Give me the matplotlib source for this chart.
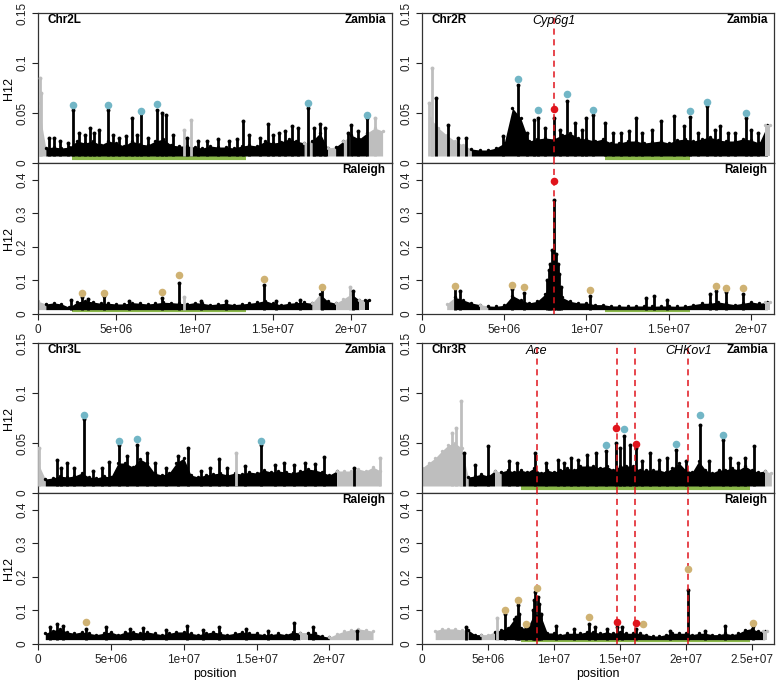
import numpy as np
import matplotlib.pyplot as plt

plt.rcParams['font.family'] = ['Liberation Sans', 'DejaVu Sans']

# band top of H12 on a 0.5 Mb grid; flag k = black, g = grey, . = no data
band_2L_zam = [0.06, 0.015, 0.016, 0.015, 0.016, 0.022, 0.02, 0.022, 0.018, 0.022,
               0.02, 0.017, 0.022, 0.019, 0.018, 0.022, 0.024, 0.018, 0.017, 0.017,
               0.016, 0.015, 0.017, 0.016, 0.016, 0.015, 0.017, 0.018, 0.017, 0.022,
               0.02, 0.021, 0.024, 0.022, 0.02, 0.022, 0.03, 0.015, 0.016, 0.022,
               0.028, 0.024, 0.03, 0.035, 0.032, 0]
flag_2L_zam = "gkkkkkkkkkkkkkkkkkkkkkkkkkkkkkkkkkgkkgkgkkggg."
band_2L_ral = [0.038, 0.03, 0.033, 0.03, 0.02, 0.036, 0.04, 0.036, 0.032, 0.032,
               0.03, 0.03, 0.034, 0.032, 0.03, 0.032, 0.035, 0.034, 0.032, 0.03,
               0.034, 0.032, 0.028, 0.03, 0.032, 0.028, 0.03, 0.032, 0.035, 0.04,
               0.032, 0.028, 0.032, 0.034, 0.035, 0.032, 0.06, 0.038, 0.032, 0.045,
               0.06, 0.042, 0.042, 0, 0, 0]
flag_2L_ral = "gkkkkkkkkkkkkkkkkkkkkkkkkkkkkkkkkkkgkkggkgk..."

band_2R_zam = [0, 0.045, 0.035, 0.028, 0.022, 0.018, 0.014, 0.013, 0.013, 0.015,
               0.02, 0.055, 0.045, 0.022, 0.024, 0.025, 0.024, 0.028, 0.03, 0.025,
               0.024, 0.022, 0.024, 0.02, 0.02, 0.022, 0.022, 0.02, 0.021, 0.022,
               0.02, 0.023, 0.024, 0.022, 0.024, 0.026, 0.023, 0.022, 0.022, 0.024,
               0.023, 0.02, 0.038]
flag_2R_zam = ".gggggkkkkkkkkkkkkkkkkkkkkkkkkkkkkkkkkkkkkg"
band_2R_ral = [0, 0, 0, 0.03, 0.05, 0.042, 0.033, 0.028, 0.024, 0.023,
               0.026, 0.055, 0.042, 0.033, 0.038, 0.06, 0.16, 0.05, 0.038, 0.033,
               0.033, 0.028, 0.028, 0.024, 0.024, 0.023, 0.024, 0.024, 0.023, 0.024,
               0.024, 0.023, 0.024, 0.028, 0.032, 0.032, 0.036, 0.032, 0.028, 0.032,
               0.036, 0.032, 0.035]
flag_2R_ral = "...gkkkgkkkkkkkkkkkkkkkkkkkkkkkkkkkkkkkkkkg"

band_3L_zam = [0.03, 0.014, 0.015, 0.017, 0.016, 0.017, 0.02, 0.016, 0.015, 0.017,
               0.016, 0.03, 0.03, 0.026, 0.034, 0.03, 0.02, 0.018, 0.02, 0.03,
               0.035, 0.018, 0.016, 0.018, 0.019, 0.02, 0.018, 0.02, 0.019, 0.021,
               0.02, 0.023, 0.021, 0.022, 0.021, 0.02, 0.022, 0.024, 0.023, 0.021,
               0.018, 0.022, 0.022, 0.022, 0.024, 0.022, 0.026, 0.022, 0]
flag_3L_zam = "gkkkkkkkkkkkkkkkkkkkkkkkkkkkkkkkkkkkkkkkkggggggg."
band_3L_ral = [0, 0.032, 0.04, 0.045, 0.036, 0.032, 0.036, 0.032, 0.028, 0.032,
               0.036, 0.028, 0.036, 0.036, 0.032, 0.036, 0.032, 0.028, 0.032, 0.036,
               0.036, 0.032, 0.028, 0.032, 0.036, 0.032, 0.028, 0.032, 0.036, 0.032,
               0.032, 0.028, 0.028, 0.032, 0.028, 0.036, 0.032, 0.032, 0.032, 0.024,
               0.02, 0.03, 0.038, 0.042, 0.045, 0.042, 0.038, 0, 0]
flag_3L_ral = ".kkkkkkkkkkkkkkkkkkkkkkkkkkkkkkkkkkkgkkkggggggg.."

band_3R_zam = [0.025, 0.03, 0.035, 0.042, 0.048, 0.05, 0.045, 0.016, 0.017, 0.019,
               0.017, 0.022, 0.021, 0.023, 0.021, 0.023, 0.021, 0.025, 0.02, 0.023,
               0.021, 0.023, 0.025, 0.023, 0.027, 0.027, 0.027, 0.025, 0.027, 0.023,
               0.027, 0.027, 0.027, 0.023, 0.023, 0.023, 0.023, 0.021, 0.025, 0.03,
               0.023, 0.021, 0.032, 0.023, 0.02, 0.023, 0.023, 0.025, 0.023, 0.027,
               0.023, 0.021, 0.022, 0.02]
flag_3R_zam = "gggggggkkkkgkkkkkkkkkkkkkkkkkkkkkkkkkkkkkkkkkkkkkkkkgg"
band_3R_ral = [0, 0, 0.04, 0.045, 0.045, 0.045, 0.042, 0.042, 0.028, 0.028,
               0.028, 0.036, 0.042, 0.048, 0.075, 0.048, 0.048, 0.09, 0.085, 0.033,
               0.033, 0.028, 0.032, 0.032, 0.032, 0.036, 0.036, 0.032, 0.036, 0.032,
               0.036, 0.032, 0.032, 0.032, 0.028, 0.024, 0.024, 0.028, 0.032, 0.032,
               0.032, 0.028, 0.032, 0.032, 0.028, 0.028, 0.032, 0.028, 0.032, 0.042,
               0.046, 0.038, 0.038, 0]
flag_3R_ral = "..gggggkkggkkkkkkkkkkkkkkkkkkkkkkkkkkkkkkkkkkkkkkkkkg."

# narrow spikes (position Mb, H12)
spk_2L_zam = [(0.7, 0.025), (1.05, 0.025), (1.4, 0.022), (1.9, 0.02), (2.23, 0.053),
              (2.6, 0.03), (3.0, 0.028), (3.3, 0.035), (3.6, 0.03), (3.9, 0.033),
              (4.49, 0.053), (4.8, 0.028), (5.2, 0.025), (5.6, 0.027), (6.0, 0.045),
              (6.3, 0.028), (6.6, 0.05), (7.0, 0.025), (7.62, 0.053), (7.9, 0.05),
              (8.2, 0.048), (8.6, 0.028), (9.5, 0.025), (10.2, 0.022), (10.8, 0.022),
              (11.5, 0.024), (12.2, 0.022), (12.7, 0.024), (13.1, 0.042), (13.5, 0.028),
              (14.2, 0.025), (14.7, 0.039), (15.0, 0.028), (15.4, 0.03), (15.8, 0.032),
              (16.2, 0.037), (16.6, 0.035), (17.21, 0.055), (17.6, 0.035), (18.0, 0.039),
              (18.3, 0.035), (19.8, 0.03), (20.0, 0.038), (20.4, 0.032), (21.02, 0.045)]
gspk_2L_zam = [(9.3, 0.033), (9.75, 0.043), (21.5, 0.045), (0.1, 0.085), (0.2, 0.07)]
spk_2L_ral = [(2.1, 0.043), (2.8, 0.052), (3.2, 0.045), (4.2, 0.055), (5.8, 0.04),
              (7.9, 0.048), (9.0, 0.092), (10.4, 0.04), (12.0, 0.04), (14.4, 0.087),
              (15.2, 0.04), (16.7, 0.042), (18.1, 0.074), (20.1, 0.068)]
gspk_2L_ral = [(9.3, 0.052), (19.9, 0.079)]

spk_2R_zam = [(0.85, 0.065), (1.56, 0.038), (2.2, 0.025), (2.7, 0.025), (4.9, 0.027),
              (5.84, 0.078), (6.4, 0.03), (6.8, 0.043), (7.05, 0.045), (7.5, 0.035),
              (8.02, 0.045), (8.4, 0.033), (8.8, 0.062), (9.3, 0.04), (9.7, 0.033),
              (10.0, 0.045), (10.4, 0.048), (11.1, 0.04), (11.6, 0.03), (12.1, 0.03),
              (12.6, 0.032), (13.0, 0.045), (13.4, 0.03), (14.0, 0.033), (14.5, 0.042),
              (15.3, 0.047), (15.9, 0.037), (16.3, 0.046), (16.8, 0.03), (17.35, 0.057),
              (17.8, 0.033), (18.1, 0.037), (18.6, 0.03), (19.0, 0.03), (19.7, 0.045),
              (20.0, 0.033), (20.4, 0.03)]
gspk_2R_zam = [(0.6, 0.095), (0.45, 0.06)]
spk_2R_ral = [(2.0, 0.079), (2.3, 0.069), (5.5, 0.074), (6.2, 0.064), (7.6, 0.1),
              (7.7, 0.13), (7.8, 0.15), (7.9, 0.19), (8.02, 0.34), (8.15, 0.18),
              (8.25, 0.15), (8.35, 0.12), (8.45, 0.08), (10.2, 0.054), (13.6, 0.048),
              (14.1, 0.055), (14.9, 0.043), (17.5, 0.06), (17.9, 0.07), (18.5, 0.065),
              (19.5, 0.06)]
gspk_2R_ral = []

spk_3L_zam = [(1.3, 0.033), (1.6, 0.025), (2.0, 0.03), (2.5, 0.025), (3.16, 0.074),
              (3.8, 0.022), (4.4, 0.025), (4.9, 0.031), (5.59, 0.048), (6.1, 0.037),
              (6.83, 0.048), (7.45, 0.04), (8.0, 0.03), (8.8, 0.025), (9.6, 0.037),
              (10.3, 0.045), (11.2, 0.022), (11.8, 0.025), (12.4, 0.034), (13.0, 0.025),
              (14.2, 0.027), (15.3, 0.048), (16.3, 0.028), (16.9, 0.03), (17.6, 0.028),
              (18.3, 0.03), (19.0, 0.029), (19.6, 0.036), (21.7, 0.025)]
gspk_3L_zam = [(13.6, 0.04), (0.1, 0.045), (23.5, 0.035)]
spk_3L_ral = [(0.8, 0.05), (1.3, 0.06), (1.7, 0.055), (3.3, 0.045), (4.7, 0.05),
              (6.3, 0.045), (7.2, 0.048), (8.8, 0.042), (10.2, 0.055), (11.3, 0.042),
              (12.4, 0.05), (14.3, 0.045), (15.8, 0.04), (17.6, 0.062), (18.9, 0.05),
              (21.9, 0.04)]
gspk_3L_ral = []

spk_3R_zam = [(3.15, 0.04), (4.0, 0.028), (4.97, 0.047), (6.6, 0.032), (7.2, 0.03),
              (8.6, 0.04), (9.4, 0.03), (10.3, 0.033), (10.8, 0.03), (11.3, 0.035),
              (11.8, 0.033), (12.5, 0.038), (13.2, 0.04), (13.95, 0.042), (14.75, 0.05),
              (15.0, 0.045), (15.3, 0.057), (15.8, 0.048), (16.2, 0.045), (16.7, 0.032),
              (17.3, 0.04), (18.0, 0.033), (18.6, 0.035), (19.3, 0.043), (20.0, 0.032),
              (21.1, 0.068), (21.8, 0.032), (22.8, 0.053), (23.4, 0.035), (24.0, 0.03),
              (24.5, 0.035), (25.2, 0.047)]
gspk_3R_zam = [(2.95, 0.092), (2.6, 0.065), (2.3, 0.06)]
spk_3R_ral = [(3.3, 0.05), (6.3, 0.09), (7.1, 0.08), (7.25, 0.115), (7.35, 0.09),
              (7.9, 0.05), (8.4, 0.1), (8.5, 0.13), (8.6, 0.155), (8.8, 0.14),
              (8.9, 0.12), (9.0, 0.09), (10.2, 0.055), (11.5, 0.045), (12.67, 0.06),
              (13.1, 0.05), (14.0, 0.045), (14.77, 0.05), (15.2, 0.05), (16.2, 0.045),
              (18.8, 0.04), (20.2, 0.16), (21.5, 0.04), (23.0, 0.055), (25.1, 0.055)]
gspk_3R_ral = [(5.7, 0.077)]

# called peaks
blue_2L = [(2.23, 0.058), (4.49, 0.058), (6.6, 0.052), (7.62, 0.059), (17.21, 0.06), (21.02, 0.048)]
tan_2L = [(2.8, 0.064), (4.2, 0.064), (7.9, 0.065), (9.0, 0.115), (14.4, 0.104), (18.1, 0.081)]
blue_2R = [(5.84, 0.084), (7.05, 0.053), (8.8, 0.069), (10.4, 0.053), (16.3, 0.052),
           (17.35, 0.061), (19.7, 0.05)]
tan_2R = [(2.0, 0.084), (5.5, 0.086), (6.2, 0.079), (10.2, 0.073), (17.9, 0.084),
          (18.5, 0.076), (19.5, 0.076)]
red_2R_zam = [(8.0, 0.054)]
red_2R_ral = [(8.0, 0.395)]
blue_3L = [(3.16, 0.078), (5.59, 0.052), (6.83, 0.054), (15.3, 0.052)]
tan_3L = [(3.3, 0.066)]
blue_3R = [(13.95, 0.048), (15.3, 0.064), (19.3, 0.049), (21.1, 0.078), (22.8, 0.058)]
tan_3R = [(6.3, 0.102), (7.25, 0.132), (7.9, 0.06), (8.7, 0.166), (12.67, 0.08),
          (16.8, 0.061), (20.2, 0.223), (25.1, 0.064)]
red_3R_zam = [(14.75, 0.065), (16.2, 0.049)]
red_3R_ral = [(14.77, 0.067), (16.2, 0.062)]

genes_2R = [(8.0, "Cyp6g1")]
genes_3R = [(8.7, "Ace"), (14.77, ""), (16.14, ""), (20.2, "CHKov1")]

green_2L = (2.2, 13.3)
green_2R = (11.15, 16.3)
green_3R = (7.5, 24.9)

chr_len = {"2L": 22.6, "2R": 21.4, "3L": 24.3, "3R": 26.7}

BLACK = "#000000"
GREY = "#bebebe"
BLUE = "#72b6c6"
TAN = "#cfb273"
RED = "#e0141c"
GREEN = "#8cb94b"

W, H = 777.0, 683.0


def draw_pop(ax, band, flags, spk, gspk, low):
    x = np.arange(len(band)) * 0.5e6
    top = np.array(band, dtype=float)
    n = len(flags)
    i = 0
    while i < n:
        f = flags[i]
        j = i
        while j + 1 < n and flags[j + 1] == f:
            j += 1
        if f != ".":
            end = j + 1 if (j + 1 < n and flags[j + 1] != ".") else j
            col = BLACK if f == "k" else GREY
            xs = x[i:end + 1]
            ys = top[i:end + 1]
            if len(xs) == 1:
                xs = np.array([xs[0] - 1.5e5, xs[0] + 1.5e5])
                ys = np.array([ys[0], ys[0]])
            ax.fill_between(xs, low, ys, color=col, lw=0, zorder=2)
            ax.scatter(xs, ys, s=6, color=col, lw=0, zorder=2)
        i = j + 1
    for lst, col in ((gspk, GREY), (spk, BLACK)):
        if not lst:
            continue
        p = np.array([s[0] for s in lst]) * 1e6
        h = np.array([s[1] for s in lst])
        ax.vlines(p, low, h, color=col, lw=2.0, zorder=3)
        ax.scatter(p, h, s=8, color=col, lw=0, zorder=3)


def dots(ax, lst, col):
    if lst:
        ax.scatter([p[0] * 1e6 for p in lst], [p[1] for p in lst], s=30,
                   color=col, lw=0, zorder=5)


def xlabels(ticks):
    out = []
    for t in ticks:
        if t == 0:
            out.append("0")
        else:
            m, e = ("%e" % (t * 1e6)).split("e")
            out.append("%ge+%02d" % (float(m), int(e)))
    return out


def style(ax, xmax, yt, ylab, xticks, show_x):
    ax.set_xlim(0, xmax * 1e6)
    ax.set_yticks(yt)
    ax.set_yticklabels(ylab, rotation=90, va="center")
    ax.tick_params(axis="both", direction="out", length=4, width=0.8,
                   labelsize=8.5, colors="#222222", pad=3)
    ax.set_xticks([t * 1e6 for t in xticks])
    if show_x:
        ax.set_xticklabels(xlabels(xticks))
    else:
        ax.tick_params(axis="x", length=0, labelbottom=False)
    for s in ax.spines.values():
        s.set_linewidth(0.9)
        s.set_color("#333333")


fig = plt.figure(figsize=(7.77, 6.83), dpi=100)

panels = [
    ("2L", 38, 13, band_2L_zam, flag_2L_zam, spk_2L_zam, gspk_2L_zam, blue_2L, [],
     band_2L_ral, flag_2L_ral, spk_2L_ral, gspk_2L_ral, tan_2L, [], [], green_2L,
     [0, 5, 10, 15, 20]),
    ("2R", 422, 13, band_2R_zam, flag_2R_zam, spk_2R_zam, gspk_2R_zam, blue_2R, red_2R_zam,
     band_2R_ral, flag_2R_ral, spk_2R_ral, gspk_2R_ral, tan_2R, red_2R_ral, genes_2R, green_2R,
     [0, 5, 10, 15, 20]),
    ("3L", 38, 343, band_3L_zam, flag_3L_zam, spk_3L_zam, gspk_3L_zam, blue_3L, [],
     band_3L_ral, flag_3L_ral, spk_3L_ral, gspk_3L_ral, tan_3L, [], [], None,
     [0, 5, 10, 15, 20]),
    ("3R", 422, 343, band_3R_zam, flag_3R_zam, spk_3R_zam, gspk_3R_zam, blue_3R, red_3R_zam,
     band_3R_ral, flag_3R_ral, spk_3R_ral, gspk_3R_ral, tan_3R, red_3R_ral, genes_3R, green_3R,
     [0, 5, 10, 15, 20, 25]),
]

for (name, px, py, bz, fz, sz, gz, blue, redz, br, fr, sr, gr, tan, redr,
     genes, green, xt) in panels:
    wpx = 392 - 38 if px < 100 else 774 - 422
    axz = fig.add_axes([px / W, 1 - (py + 150) / H, wpx / W, 150 / H])
    axr = fig.add_axes([px / W, 1 - (py + 301) / H, wpx / W, 151 / H])

    draw_pop(axz, bz, fz, sz, gz, 0.007)
    draw_pop(axr, br, fr, sr, gr, 0.013)
    dots(axz, blue, BLUE)
    dots(axz, redz, RED)
    dots(axr, tan, TAN)
    dots(axr, redr, RED)

    if green:
        axz.plot([green[0] * 1e6, green[1] * 1e6], [0.005, 0.005], color=GREEN, lw=3,
                 solid_capstyle="butt", zorder=1)
        axr.plot([green[0] * 1e6, green[1] * 1e6], [0.011, 0.011], color=GREEN, lw=3,
                 solid_capstyle="butt", zorder=1)

    for gpos, gname in genes:
        for a in (axz, axr):
            a.axvline(gpos * 1e6, color=RED, lw=1.1, ls=(0, (4, 3)), zorder=4)
        if gname:
            axz.text(gpos * 1e6, 0.142, gname, style="italic", fontsize=9,
                     ha="center", va="center", zorder=6)

    axz.set_ylim(0, 0.15)
    axr.set_ylim(0, 0.45)
    style(axz, chr_len[name], [0, 0.05, 0.1, 0.15], ["0", "0.05", "0.1", "0.15"], xt, False)
    style(axr, chr_len[name], [0, 0.1, 0.2, 0.3, 0.4], ["0", "0.1", "0.2", "0.3", "0.4"], xt, True)

    axz.text(0.028, 0.953, "Chr" + name, transform=axz.transAxes, fontsize=8.5,
             fontweight="bold", ha="left", va="center")
    axz.text(0.982, 0.953, "Zambia", transform=axz.transAxes, fontsize=8.5,
             fontweight="bold", ha="right", va="center")
    axr.text(0.982, 0.953, "Raleigh", transform=axr.transAxes, fontsize=8.5,
             fontweight="bold", ha="right", va="center")

    if px < 100:
        for top, hgt in ((py, 150), (py + 150, 151)):
            fig.text(9 / W, 1 - (top + hgt / 2) / H, "H12", rotation=90, fontsize=9,
                     ha="center", va="center")
    if py > 100:
        fig.text((px + wpx / 2) / W, 1 - 674 / H, "position", fontsize=9,
                 ha="center", va="center")

fig.savefig("out.png", dpi=100)
